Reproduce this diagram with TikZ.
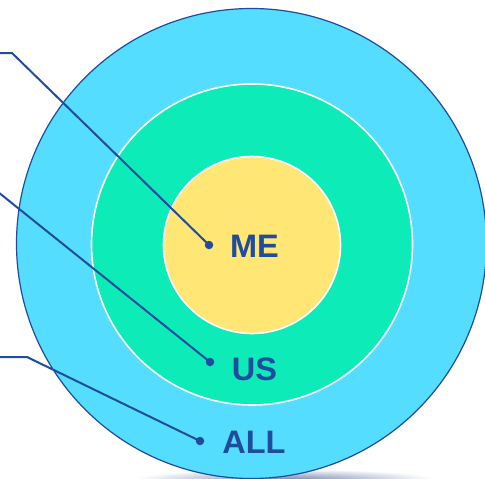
\documentclass[tikz,border=0pt]{standalone}
\usepackage{fontspec}
\setmainfont{Liberation Sans}
\definecolor{outerblue}{HTML}{55DDFF}
\definecolor{midgreen}{HTML}{0DEBB9}
\definecolor{inneryellow}{HTML}{FFE675}
\definecolor{darkblue}{HTML}{1F4C9C}
\definecolor{shadowc}{HTML}{7E8CB0}
\begin{document}
\begin{tikzpicture}[x=1pt,y=-1pt,
  ring/.style={circle, minimum size=#1, inner sep=0pt},
  lbl/.style={font=\fontsize{32.5}{32.5}\selectfont\bfseries, text=darkblue, inner sep=0pt},
  dotnode/.style={circle, fill=darkblue, minimum size=8.5pt, inner sep=0pt},
  conn/.style={draw=darkblue, line width=2pt, line join=round}]
\useasboundingbox (0,0) rectangle (485,479);
\shade[inner color=shadowc, outer color=white] (285,479) ellipse (150pt and 10pt);
\node[ring=470pt, fill=outerblue, draw=darkblue, line width=1.2pt] (all) at (251.5,243.5) {};
\node[ring=321pt, fill=midgreen, draw=white, line width=1.6pt] (us) at (252,244.5) {};
\node[ring=177pt, fill=inneryellow, draw=white, line width=1.6pt] (me) at (252,245) {};
\node[lbl] (tme) at (254.5,246.5) {ME};
\node[lbl] (tus) at (254.5,369) {US};
\node[lbl] (tall) at (254,442) {ALL};
\node[dotnode] (dme) at (209,245) {};
\node[dotnode] (dus) at (210,362) {};
\node[dotnode] (dall) at (200,441) {};
\coordinate (sme) at (-2,53);
\coordinate (kme) at (12,53);
\coordinate (sus) at (-2,192);
\coordinate (sall) at (-2,357);
\coordinate (kall) at (27,357);
\draw[conn] (sme) -- (kme) -- (dme.center);
\draw[conn] (sus) -- (dus.center);
\draw[conn] (sall) -- (kall) -- (dall.center);
\end{tikzpicture}
\end{document}
